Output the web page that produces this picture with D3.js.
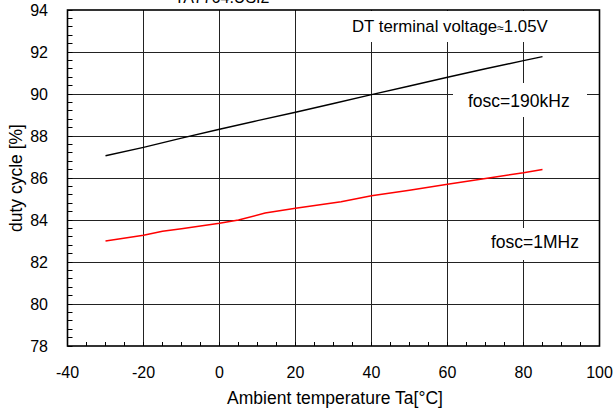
<!DOCTYPE html>
<html><head><meta charset="utf-8">
<script src="https://cdn.jsdelivr.net/npm/d3@7"></script>
<style>body{margin:0;background:#fff}svg{display:block}text{font-family:"Liberation Sans",Arial,sans-serif;fill:#000}</style>
</head><body><svg id="c" width="616" height="414"></svg>
<script>
// Data
const temps190k = [-30, -20, -10, 0, 10, 20, 30, 40, 50, 60, 70, 80, 85];
const duty190k  = [87.06, 87.46, 87.90, 88.32, 88.73, 89.13, 89.55, 89.97, 90.38, 90.80, 91.20, 91.59, 91.78];
const temps1M = [-30, -20, -15, -10, 0, 5, 12, 20, 32, 40, 50, 60, 70, 80, 85];
const duty1M  = [83.00, 83.27, 83.46, 83.58, 83.84, 84.00, 84.33, 84.56, 84.87, 85.16, 85.42, 85.70, 85.98, 86.25, 86.41];
const xTicks = [-40, -20, 0, 20, 40, 60, 80, 100];
const yTicks = [78, 80, 82, 84, 86, 88, 90, 92, 94];
const xLabel = "Ambient temperature Ta[°C]";
const yLabel = "duty cycle [%]";
const noteDT = ["DT terminal voltage", "≈", "1.05V"];
const label190k = "fosc=190kHz";
const label1M = "fosc=1MHz";
const topTitle = "TA7764.USI2";

const svg = d3.select("#c");
const L = 67.5, R = 599.5, T = 10, B = 346;
const x = d3.scaleLinear().domain([-40, 100]).range([L, R]);
const y = d3.scaleLinear().domain([78, 94]).range([B, T]);
const cx = d => Math.round(x(d) - 0.5) + 0.5;
const cy = d => Math.round(y(d) - 0.5) + 0.5;

// cut-off title (as in reference)
svg.append("text").attr("x", 222).attr("y", 3).attr("text-anchor", "middle")
  .attr("font-size", 16).text(topTitle);

// grid
const g = svg.append("g");
g.selectAll(".gx").data(xTicks.slice(1, -1)).join("line")
  .attr("x1", cx).attr("x2", cx).attr("y1", T).attr("y2", B)
  .attr("stroke", "#222").attr("stroke-width", 1);
g.selectAll(".gy").data(yTicks.slice(1, -1)).join("line")
  .attr("y1", cy).attr("y2", cy).attr("x1", L).attr("x2", R)
  .attr("stroke", "#222").attr("stroke-width", 1);

// minor ticks
const xMinor = d3.range(-40, 100.01, 5);
const yMinor = d3.range(78, 94.01, 0.4);
g.selectAll(".mx").data(xMinor).join("line")
  .attr("x1", cx).attr("x2", cx).attr("y1", B).attr("y2", B - 4)
  .attr("stroke", "#000").attr("stroke-width", 1);
g.selectAll(".my").data(yMinor).join("line")
  .attr("y1", cy).attr("y2", cy).attr("x1", L).attr("x2", L + 5)
  .attr("stroke", "#000").attr("stroke-width", 1);

// white label boxes (cover grid)
const boxes = [[345, 11, 222, 31], [453, 83, 134, 34], [478, 228, 114, 32]];
svg.selectAll(".box").data(boxes).join("rect")
  .attr("x", d => d[0]).attr("y", d => d[1]).attr("width", d => d[2]).attr("height", d => d[3])
  .attr("fill", "#fff");

// frame
svg.append("rect").attr("x", L).attr("y", T).attr("width", R - L).attr("height", B - T)
  .attr("fill", "none").attr("stroke", "#000").attr("stroke-width", 1.6);

// lines
const line = d3.line().x(d => x(d[0])).y(d => y(d[1]));
svg.append("path").datum(d3.zip(temps190k, duty190k)).attr("d", line)
  .attr("fill", "none").attr("stroke", "#000").attr("stroke-width", 1.4);
svg.append("path").datum(d3.zip(temps1M, duty1M)).attr("d", line)
  .attr("fill", "none").attr("stroke", "#ff0000").attr("stroke-width", 1.5);

// tick labels
svg.selectAll(".xl").data(xTicks).join("text")
  .attr("x", d => x(d)).attr("y", 378).attr("text-anchor", "middle")
  .attr("font-size", 16).text(d => d);
svg.selectAll(".yl").data(yTicks).join("text")
  .attr("x", 48).attr("y", d => y(d) + 6).attr("text-anchor", "end")
  .attr("font-size", 16).text(d => d);

// axis titles
svg.append("text").attr("x", 335).attr("y", 404).attr("text-anchor", "middle")
  .attr("font-size", 17.5).text(xLabel);
svg.append("text").attr("transform", `translate(22,${(T + B) / 2}) rotate(-90)`)
  .attr("text-anchor", "middle").attr("font-size", 17.5).text(yLabel);

// annotations
const n = svg.append("text").attr("x", 352).attr("y", 32).attr("font-size", 16.8);
n.append("tspan").text(noteDT[0]);
n.append("tspan").attr("font-size", 12).text(noteDT[1]);
n.append("tspan").text(noteDT[2]);
svg.append("text").attr("x", 468).attr("y", 107).attr("font-size", 17.5).text(label190k);
svg.append("text").attr("x", 491).attr("y", 248).attr("font-size", 17.5).text(label1M);
</script></body></html>
